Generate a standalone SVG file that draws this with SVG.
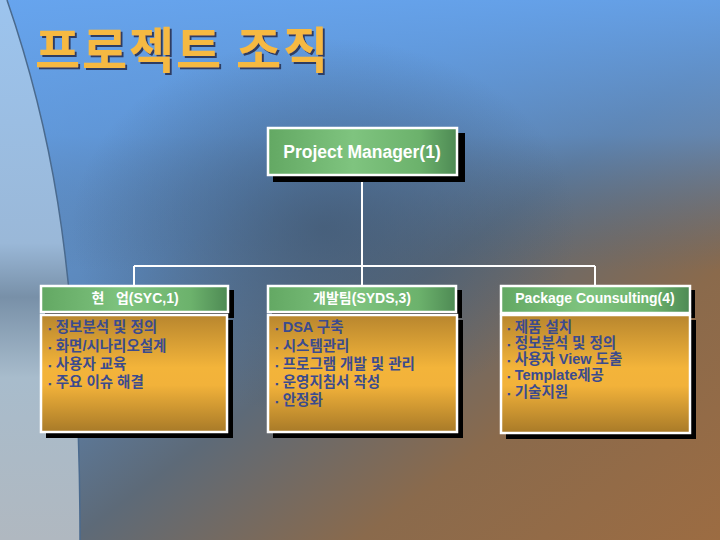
<svg xmlns="http://www.w3.org/2000/svg" width="720" height="540" viewBox="0 0 720 540">
<defs>
<linearGradient id="bgBase" x1="0" y1="0" x2="1" y2="1">
<stop offset="0" stop-color="#6aa6ec"/>
<stop offset="0.35" stop-color="#5b86b8"/>
<stop offset="0.55" stop-color="#5d6a78"/>
<stop offset="0.75" stop-color="#8a6a4c"/>
<stop offset="1" stop-color="#9c6c42"/>
</linearGradient>
<linearGradient id="bgTop" x1="0" y1="0" x2="0" y2="1">
<stop offset="0" stop-color="#66a4ee" stop-opacity="0.9"/>
<stop offset="0.25" stop-color="#5f98dc" stop-opacity="0.6"/>
<stop offset="0.5" stop-color="#4a6688" stop-opacity="0"/>
</linearGradient>
<radialGradient id="dark" cx="0.45" cy="0.42" r="0.35">
<stop offset="0" stop-color="#3f556e" stop-opacity="0.7"/>
<stop offset="1" stop-color="#3f556e" stop-opacity="0"/>
</radialGradient>
<linearGradient id="bgLeft" x1="0" y1="0" x2="0" y2="1">
<stop offset="0" stop-color="#9cc4ee"/>
<stop offset="0.45" stop-color="#9ab8d8"/>
<stop offset="0.55" stop-color="#7890a8"/>
<stop offset="0.7" stop-color="#a8bccc"/>
<stop offset="1" stop-color="#b0b8c0"/>
</linearGradient>
<linearGradient id="green" x1="0" y1="0" x2="1" y2="0">
<stop offset="0" stop-color="#63a863"/>
<stop offset="0.45" stop-color="#7fc47f"/>
<stop offset="0.8" stop-color="#6cb26c"/>
<stop offset="1" stop-color="#4e8a54"/>
</linearGradient>
<linearGradient id="orange" x1="0" y1="0" x2="0" y2="1">
<stop offset="0" stop-color="#b8862e"/>
<stop offset="0.45" stop-color="#f3b43a"/>
<stop offset="0.6" stop-color="#f2b23a"/>
<stop offset="1" stop-color="#a87a28"/>
</linearGradient>
<filter id="tshadow" x="-5%" y="-20%" width="110%" height="140%">
<feDropShadow dx="2" dy="2" stdDeviation="0.6" flood-color="#2e3e64" flood-opacity="1"/>
</filter>
<style>
.shadow{fill:#000}
.hdr{fill:url(#green);stroke:#fff;stroke-width:2.5}
.body{fill:url(#orange);stroke:#fff;stroke-width:2.5}
.ht{fill:#fff;font-family:'Liberation Sans','Noto Sans CJK KR',sans-serif;font-weight:bold;font-size:14px;text-anchor:middle}
.pmt{font-size:17.5px}
.bt{fill:#3b4b8e;font-family:'Liberation Sans','Noto Sans CJK KR',sans-serif;font-weight:bold;font-size:14.5px}
.bl{font-size:9px}
.con{stroke:#fff;stroke-width:2;fill:none}
</style>
</defs>
<rect width="720" height="540" fill="url(#bgBase)"/>
<rect width="720" height="540" fill="url(#bgTop)"/>
<rect width="720" height="540" fill="url(#dark)"/>
<path d="M0,0 L7,0 C45,110 80,250 80,540 L0,540 Z" fill="url(#bgLeft)"/>
<path d="M7,0 C45,110 80,250 80,540" stroke="#4a6a8e" stroke-width="1.5" fill="none"/>
<g id="title">
<text x="35" y="68" font-family="'Noto Sans CJK KR',sans-serif" font-weight="bold" font-size="49" fill="#f6b942" textLength="293" filter="url(#tshadow)">프로젝트 조직</text>
</g>
<g id="connectors">
<path class="con" d="M362,175 V266 M134,266 H595 M134,266 V286 M362,266 V286 M595,266 V286"/>
</g>
<g id="pm">
<rect class="shadow" x="273" y="133" width="192" height="49"/>
<rect class="hdr" x="268" y="128" width="189" height="47"/>
<text class="ht pmt" x="362" y="158">Project Manager(1)</text>
</g>
<g id="syc">
<rect class="shadow" x="45" y="290" width="189" height="28"/>
<rect class="hdr" x="41" y="286" width="187" height="26"/>
<text class="ht" x="135" y="303" style="white-space:pre">현   업(SYC,1)</text>
<rect class="shadow" x="46" y="320" width="187" height="118"/>
<rect class="body" x="41" y="315" width="186" height="117"/>
<text class="bt" x="48" y="332"><tspan class="bl">▪ </tspan><tspan dx="2">정보분석 및 정의</tspan></text>
<text class="bt" x="48" y="351"><tspan class="bl">▪ </tspan><tspan dx="2">화면/시나리오설계</tspan></text>
<text class="bt" x="48" y="369"><tspan class="bl">▪ </tspan><tspan dx="2">사용자 교육</tspan></text>
<text class="bt" x="48" y="387"><tspan class="bl">▪ </tspan><tspan dx="2">주요 이슈 해결</tspan></text>
</g>
<g id="syds">
<rect class="shadow" x="272" y="290" width="190" height="28"/>
<rect class="hdr" x="268" y="286" width="188" height="26"/>
<text class="ht" x="362" y="303">개발팀(SYDS,3)</text>
<rect class="shadow" x="273" y="320" width="190" height="118"/>
<rect class="body" x="268" y="315" width="189" height="117"/>
<text class="bt" x="275" y="332"><tspan class="bl">▪ </tspan><tspan dx="2">DSA 구축</tspan></text>
<text class="bt" x="275" y="351"><tspan class="bl">▪ </tspan><tspan dx="2">시스템관리</tspan></text>
<text class="bt" x="275" y="369"><tspan class="bl">▪ </tspan><tspan dx="2">프로그램 개발 및 관리</tspan></text>
<text class="bt" x="275" y="387"><tspan class="bl">▪ </tspan><tspan dx="2">운영지침서 작성</tspan></text>
<text class="bt" x="275" y="405"><tspan class="bl">▪ </tspan><tspan dx="2">안정화</tspan></text>
</g>
<g id="package">
<rect class="shadow" x="505" y="290" width="190" height="28"/>
<rect class="hdr" x="501" y="286" width="189" height="27"/>
<text class="ht" x="595" y="303">Package Counsulting(4)</text>
<rect class="shadow" x="506" y="320" width="190" height="119"/>
<rect class="body" x="501" y="315" width="189" height="118"/>
<text class="bt" x="507" y="332"><tspan class="bl">▪ </tspan><tspan dx="2">제품 설치</tspan></text>
<text class="bt" x="507" y="348"><tspan class="bl">▪ </tspan><tspan dx="2">정보분석 및 정의</tspan></text>
<text class="bt" x="507" y="364"><tspan class="bl">▪ </tspan><tspan dx="2">사용자 View 도출</tspan></text>
<text class="bt" x="507" y="380"><tspan class="bl">▪ </tspan><tspan dx="2">Template제공</tspan></text>
<text class="bt" x="507" y="397"><tspan class="bl">▪ </tspan><tspan dx="2">기술지원</tspan></text>
</g>
</svg>
